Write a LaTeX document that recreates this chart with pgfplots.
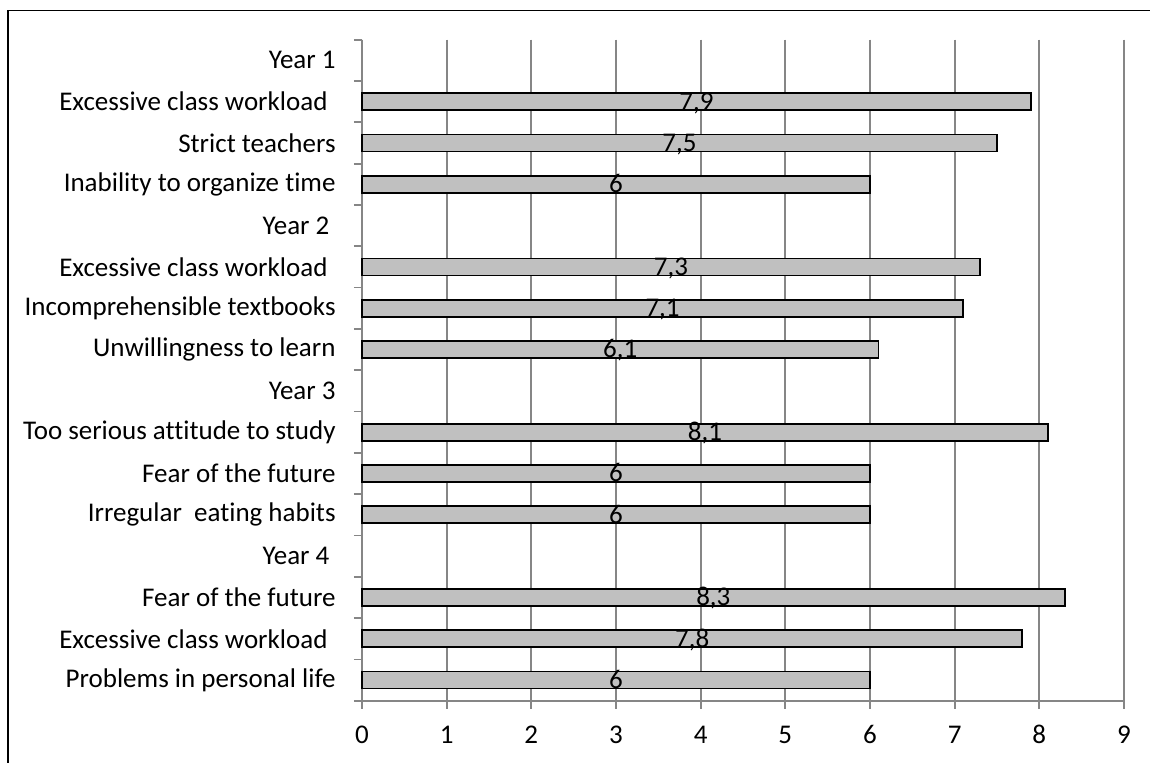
\documentclass[border=0pt]{standalone}
\usepackage{pgfplots}
\pgfplotsset{compat=1.18}
\usepackage{pgfplotstable}
\usepackage{fontspec}
\setmainfont{Carlito}[Ligatures=NoCommon]
\definecolor{bargray}{RGB}{192,192,192}
\definecolor{gridgray}{RGB}{134,134,134}
\pgfplotstableread{
y v lab
1 7.9 {7,9}
2 7.5 {7,5}
3 6 {6}
5 7.3 {7,3}
6 7.1 {7,1}
7 6.1 {6,1}
9 8.1 {8,1}
10 6 {6}
11 6 {6}
13 8.3 {8,3}
14 7.8 {7,8}
15 6 {6}
}\data
\begin{document}
\fontsize{13.5}{16}\selectfont
\begin{tikzpicture}[font=\fontsize{13.5}{16}\selectfont]
\useasboundingbox (-181pt,-30.65pt) rectangle (394pt,350.35pt);
\draw[line width=0.6pt] (-177pt,-40pt) -- (-177pt,345.1pt) -- (400pt,345.1pt);
\begin{axis}[
  at={(0,0)}, anchor=south west,
  width=381pt, height=330.5pt, scale only axis,
  xmin=0, xmax=9, ymin=-0.5, ymax=15.5, y dir=reverse,
  axis x line*=bottom, axis y line*=left,
  axis line style={gridgray, line width=0.9pt},
  xtick={0,...,9}, xmajorgrids,
  major grid style={gridgray, line width=0.9pt},
  tick align=outside, major tick length=4pt,
  tick style={gridgray, line width=0.9pt},
  ytick={-0.5,0.5,...,15.5},
  yticklabels={Year 1,Excessive class workload\hspace*{0.3em},Strict teachers,Inability to organize time,Year 2\hspace*{0.23em},Excessive class workload\hspace*{0.3em},Incomprehensible textbooks,Unwillingness to learn,Year 3,Too serious attitude to study,Fear of the future,Irregular\ \ eating habits,Year 4\hspace*{0.23em},Fear of the future,Excessive class workload\hspace*{0.3em},Problems in personal life,{}},
  yticklabel style={anchor=east, inner sep=0pt, xshift=-9pt, yshift=-10.33pt},
  xticklabel style={anchor=base, inner sep=0pt, yshift=-17.3pt},
  /pgf/number format/assume math mode=true,
  every tick label/.append style={font=\fontsize{13.5}{16}\selectfont},
  clip=false,
]
\addplot[xbar, bar width=8.5pt, bar shift=0pt, fill=bargray, draw=black, line width=0.9pt] table[x=v, y=y]{\data};
\addplot[draw=none, mark=none, nodes near coords, point meta=explicit symbolic,
  nodes near coords style={anchor=base, yshift=-4.2pt, inner sep=0pt, font=\fontsize{13.5}{16}\selectfont, text=black}]
  table[x expr=\thisrow{v}/2, y=y, meta=lab]{\data};
\end{axis}
\end{tikzpicture}
\end{document}
